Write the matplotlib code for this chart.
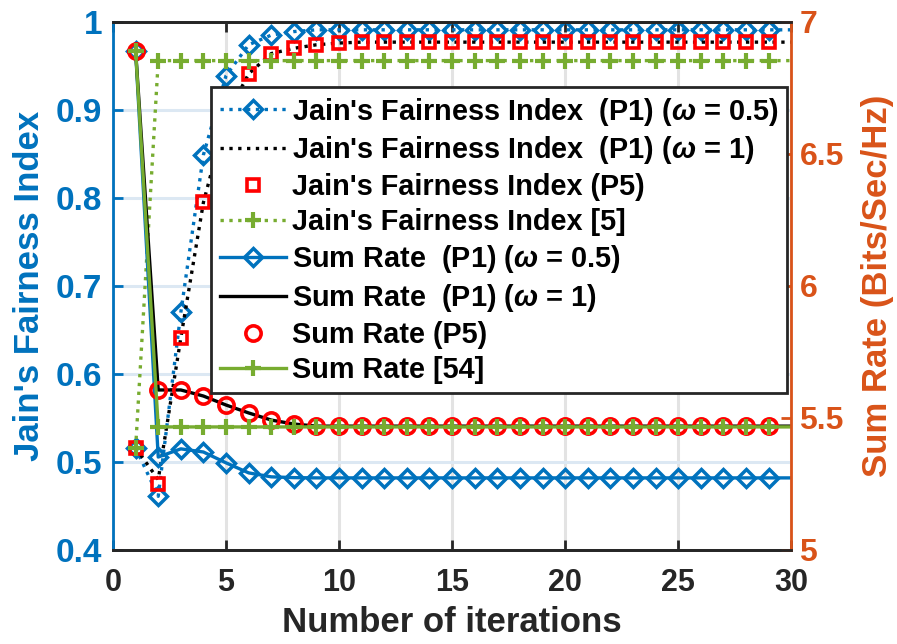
import numpy as np
import matplotlib
matplotlib.use('Agg')
import matplotlib.pyplot as plt

plt.rcParams['font.family'] = ['Liberation Sans', 'DejaVu Sans']
plt.rcParams['font.weight'] = 'bold'
plt.rcParams['mathtext.fontset'] = 'custom'
plt.rcParams['mathtext.it'] = 'Liberation Sans:italic'
plt.rcParams['mathtext.rm'] = 'Liberation Sans:bold'

blue = '#0072BD'
orange = '#D95319'
green = '#77AC30'

iters = np.arange(1, 31)

# Jain's fairness index (left axis)
jfi_p1_w05 = [0.516, 0.461, 0.670, 0.849, 0.939, 0.974, 0.985, 0.989, 0.991, 0.991,
              0.991, 0.991, 0.991, 0.991, 0.991, 0.991, 0.991, 0.991, 0.991, 0.991,
              0.991, 0.991, 0.991, 0.991, 0.991, 0.991, 0.991, 0.991, 0.991, 0.991]
jfi_p1_w1 = [0.516, 0.480, 0.641, 0.795, 0.892, 0.941, 0.964, 0.970, 0.974, 0.976,
             0.977, 0.977, 0.977, 0.977, 0.977, 0.977, 0.977, 0.977, 0.977, 0.977,
             0.977, 0.977, 0.977, 0.977, 0.977, 0.977, 0.977, 0.977, 0.977, 0.977]
jfi_p5 = [0.516, 0.475, 0.641, 0.795, 0.892, 0.941, 0.964, 0.970, 0.974, 0.976,
          0.977, 0.977, 0.977, 0.977, 0.977, 0.977, 0.977, 0.977, 0.977, 0.977,
          0.977, 0.977, 0.977, 0.977, 0.977, 0.977, 0.977, 0.977, 0.977, 0.977]
jfi_ref5 = [0.516] + [0.956] * 29

# sum rate (right axis)
sr_p1_w05 = [6.89, 5.352, 5.383, 5.371, 5.330, 5.292, 5.277, 5.274] + [5.273] * 22
sr_p1_w1 = [6.89, 5.606, 5.606, 5.583, 5.549, 5.519, 5.492, 5.477] + [5.469] * 22
sr_p5 = [6.89, 5.606, 5.606, 5.583, 5.549, 5.519, 5.492, 5.477] + [5.469] * 22
sr_ref54 = [6.89] + [5.466] * 29

fig = plt.figure(figsize=(8.97, 6.44), dpi=100)
ax = fig.add_axes([0.126, 0.146, 0.756, 0.82])
ax2 = ax.twinx()

mk = slice(0, 29)
lw = 2.4

h1, = ax.plot(iters, jfi_p1_w05, ':', color=blue, lw=lw, marker='D', ms=9.5,
              mfc='none', mew=2.5, markevery=mk,
              label="Jain's Fairness Index  (P1) ($\\omega$ = 0.5)")
h2, = ax.plot(iters, jfi_p1_w1, ':', color='k', lw=lw,
              label="Jain's Fairness Index  (P1) ($\\omega$ = 1)")
h3, = ax.plot(iters, jfi_p5, 's', color='r', ms=8.5, mfc='none', mew=2.6,
              markevery=mk, label="Jain's Fairness Index (P5)")
h4, = ax.plot(iters, jfi_ref5, ':', color=green, lw=lw, marker='+', ms=12,
              mew=3, markevery=mk, label="Jain's Fairness Index [5]")

h5, = ax2.plot(iters, sr_p1_w05, '-', color=blue, lw=lw, marker='D', ms=9.5,
               mfc='none', mew=2.5, markevery=mk,
               label="Sum Rate  (P1) ($\\omega$ = 0.5)")
h6, = ax2.plot(iters, sr_p1_w1, '-', color='k', lw=lw,
               label="Sum Rate  (P1) ($\\omega$ = 1)")
h7, = ax2.plot(iters, sr_p5, 'o', color='r', ms=11, mfc='none', mew=2.6,
               markevery=mk, label="Sum Rate (P5)")
h8, = ax2.plot(iters, sr_ref54, '-', color=green, lw=lw, marker='+', ms=12,
               mew=3, markevery=mk, label="Sum Rate [54]")

ax.set_xlim(0, 30)
ax.set_ylim(0.4, 1.0)
ax2.set_ylim(5, 7)
ax.set_xticks(np.arange(0, 31, 5))
ax.set_yticks(np.arange(0.4, 1.01, 0.1))
ax.set_yticklabels(['0.4', '0.5', '0.6', '0.7', '0.8', '0.9', '1'])
ax2.set_yticks([5, 5.5, 6, 6.5, 7])
ax2.set_yticklabels(['5', '5.5', '6', '6.5', '7'])

# grid: grey verticals, pale blue horizontals
ax.xaxis.grid(True, color='#E3E3E3', lw=2.2)
ax.yaxis.grid(True, color='#DCE8F3', lw=2.2)
ax.set_axisbelow(True)

for a in (ax, ax2):
    a.spines['top'].set_color('#262626')
    a.spines['bottom'].set_color('#262626')
    a.spines['top'].set_linewidth(2)
    a.spines['bottom'].set_linewidth(2)
ax.spines['left'].set_color(blue)
ax.spines['left'].set_linewidth(2)
ax2.spines['right'].set_color(orange)
ax2.spines['right'].set_linewidth(2)
ax.spines['right'].set_visible(False)
ax2.spines['left'].set_visible(False)

ax.tick_params(axis='x', direction='in', length=7, width=2, color='#262626',
               top=True, labelsize=22, labelcolor='#262626', pad=13)
ax.tick_params(axis='y', direction='in', length=7, width=2, color=blue,
               labelsize=24, labelcolor=blue, pad=8)
ax2.tick_params(axis='y', direction='in', length=7, width=2, color=orange,
                labelsize=23, labelcolor=orange, pad=6)

ax.set_xlabel('Number of iterations', fontsize=25, fontweight='bold',
              color='#262626', labelpad=6)
ax.set_ylabel("Jain's Fairness Index", fontsize=25, fontweight='bold',
              color=blue, labelpad=7)
ax2.set_ylabel('Sum Rate (Bits/Sec/Hz)', fontsize=25, fontweight='bold',
               color=orange, labelpad=12)

leg = ax2.legend(handles=[h1, h2, h3, h4, h5, h6, h7, h8], loc='upper right',
                 bbox_to_anchor=(0.994, 0.877), borderaxespad=0, fontsize=20.8,
                 frameon=True, fancybox=False, edgecolor='#262626',
                 framealpha=1, handlelength=2.3, handletextpad=0.2,
                 labelspacing=0.24, borderpad=0.3)
leg.get_frame().set_linewidth(2)

fig.savefig('out.png', dpi=100)
